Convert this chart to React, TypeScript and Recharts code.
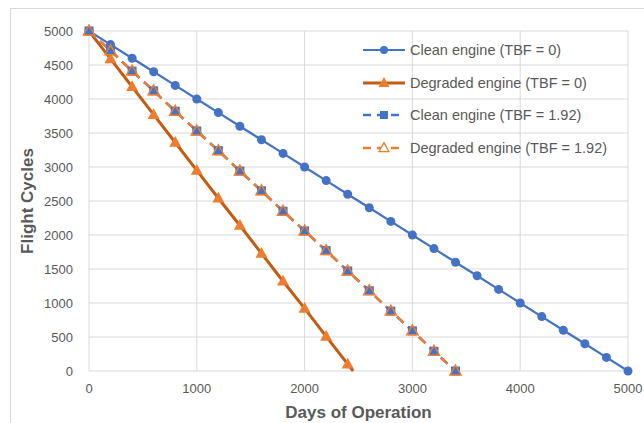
import { LineChart, Line, XAxis, YAxis, CartesianGrid, Label } from "recharts";

const BLUE = "#4472C4";
const ORANGE = "#ED7D31";
const DARK_ORANGE = "#C55A11";
const GRID = "#D9D9D9";
const TEXT = "#595959";
const FONT = "'Liberation Sans', Arial, sans-serif";

// days of operation (x) for each series
const cleanDays = [0, 200, 400, 600, 800, 1000, 1200, 1400, 1600, 1800, 2000, 2200, 2400, 2600, 2800, 3000, 3200, 3400, 3600, 3800, 4000, 4200, 4400, 4600, 4800, 5000];
const cleanCycles = [5000, 4800, 4600, 4400, 4200, 4000, 3800, 3600, 3400, 3200, 3000, 2800, 2600, 2400, 2200, 2000, 1800, 1600, 1400, 1200, 1000, 800, 600, 400, 200, 0];

const degradedDays = [0, 200, 400, 600, 800, 1000, 1200, 1400, 1600, 1800, 2000, 2200, 2400, 2450];
const degradedCycles = [5000, 4590, 4180, 3770, 3360, 2950, 2540, 2140, 1730, 1320, 920, 510, 100, 0];

const tbfDays = [0, 200, 400, 600, 800, 1000, 1200, 1400, 1600, 1800, 2000, 2200, 2400, 2600, 2800, 3000, 3200, 3400];
const cleanTbfCycles = [5000, 4710, 4410, 4120, 3820, 3530, 3240, 2940, 2650, 2350, 2060, 1770, 1470, 1180, 880, 590, 290, 0];
const degradedTbfCycles = [5000, 4710, 4410, 4120, 3820, 3530, 3240, 2940, 2650, 2350, 2060, 1770, 1470, 1180, 880, 590, 290, 0];

const xTicks = [0, 1000, 2000, 3000, 4000, 5000];
const yTicks = [0, 500, 1000, 1500, 2000, 2500, 3000, 3500, 4000, 4500, 5000];

const seriesNames = [
  "Clean engine (TBF = 0)",
  "Degraded engine (TBF = 0)",
  "Clean engine (TBF = 1.92)",
  "Degraded engine (TBF = 1.92)",
];

const toRows = (xs: number[], ys: number[]) => xs.map((x, i) => ({ x, y: ys[i] }));

const cleanData = toRows(cleanDays, cleanCycles);
const degradedData = toRows(degradedDays, degradedCycles);
const cleanTbfData = toRows(tbfDays, cleanTbfCycles);
const degradedTbfData = toRows(tbfDays, degradedTbfCycles);

function tri(cx: number, cy: number, s: number) {
  const h = s * 0.9;
  return `M${cx},${cy - h * 0.6} L${cx + s / 2},${cy + h * 0.4} L${cx - s / 2},${cy + h * 0.4} Z`;
}

const CircleDot = (p: any) => <circle key={p.index} cx={p.cx} cy={p.cy} r={4.5} fill={BLUE} />;

const SquareDot = (p: any) => <rect key={p.index} x={p.cx - 4.5} y={p.cy - 4.5} width={9} height={9} fill={BLUE} />;

// last degraded point (where the line meets zero) has no marker
const TriDot = (p: any) =>
  p.payload.x % 200 === 0 ? <path key={p.index} d={tri(p.cx, p.cy, 12)} fill={ORANGE} /> : <g key={p.index} />;

const OpenTriDot = (p: any) => (
  <path key={p.index} d={tri(p.cx, p.cy, 11)} fill="none" stroke={ORANGE} strokeWidth={1.5} />
);

function LegendIcon({ i }: { i: number }) {
  return (
    <svg width={46} height={14} style={{ display: "block" }}>
      {i === 0 && (
        <>
          <line x1={2} y1={7} x2={44} y2={7} stroke={BLUE} strokeWidth={2} />
          <circle cx={23} cy={7} r={4} fill={BLUE} />
        </>
      )}
      {i === 1 && (
        <>
          <line x1={2} y1={7} x2={44} y2={7} stroke={DARK_ORANGE} strokeWidth={3} />
          <path d={tri(23, 7, 11)} fill={ORANGE} />
        </>
      )}
      {i === 2 && (
        <>
          <line x1={2} y1={7} x2={44} y2={7} stroke={BLUE} strokeWidth={2.5} strokeDasharray="8 6" />
          <rect x={19} y={3} width={8} height={8} fill={BLUE} />
        </>
      )}
      {i === 3 && (
        <>
          <line x1={2} y1={7} x2={44} y2={7} stroke={ORANGE} strokeWidth={2.5} strokeDasharray="8 6" />
          <path d={tri(23, 7, 10)} fill="white" stroke={ORANGE} strokeWidth={1.3} />
        </>
      )}
    </svg>
  );
}

function LegendBox() {
  return (
    <div style={{ position: "absolute", left: 361, top: 34, fontFamily: FONT, fontSize: 14.5, color: TEXT }}>
      {seriesNames.map((name, i) => (
        <div key={name} style={{ display: "flex", alignItems: "center", height: 32.5 }}>
          <LegendIcon i={i} />
          <span style={{ marginLeft: 3 }}>{name}</span>
        </div>
      ))}
    </div>
  );
}

export default function App() {
  return (
    <div style={{ position: "absolute", left: 0, top: 0, width: 644, height: 423, background: "white", overflow: "hidden" }}>
      <div
        style={{
          position: "absolute",
          left: 10,
          top: 8,
          width: 700,
          height: 500,
          border: `1px solid ${GRID}`,
          boxSizing: "border-box",
        }}
      />
      <LineChart width={644} height={423} margin={{ top: 31, right: 16, bottom: 0, left: 0 }} style={{ position: "absolute", left: 0, top: 0 }}>
        <CartesianGrid stroke={GRID} strokeWidth={1} horizontal vertical />
        <XAxis
          type="number"
          dataKey="x"
          domain={[0, 5000]}
          ticks={xTicks}
          axisLine={false}
          tickLine={false}
          tickSize={0}
          tickMargin={13}
          height={52}
          tick={{ fill: TEXT, fontSize: 13, fontFamily: FONT }}
          allowDuplicatedCategory={false}
        >
          <Label value="Days of Operation" position="insideBottom" offset={5} style={{ fill: TEXT, fontSize: 17, fontWeight: "bold", fontFamily: FONT }} />
        </XAxis>
        <YAxis
          type="number"
          dataKey="y"
          domain={[0, 5000]}
          ticks={yTicks}
          axisLine={false}
          tickLine={false}
          tickSize={0}
          tickMargin={16}
          width={89}
          tick={{ fill: TEXT, fontSize: 13, fontFamily: FONT }}
        >
          <Label value="Flight Cycles" angle={-90} position="insideLeft" offset={27} style={{ fill: TEXT, fontSize: 17, fontWeight: "bold", fontFamily: FONT, textAnchor: "middle" }} />
        </YAxis>
        <Line data={cleanData} dataKey="y" stroke={BLUE} strokeWidth={2.2} dot={CircleDot} activeDot={false} isAnimationActive={false} />
        <Line data={degradedData} dataKey="y" stroke={DARK_ORANGE} strokeWidth={3} dot={TriDot} activeDot={false} isAnimationActive={false} />
        <Line data={cleanTbfData} dataKey="y" stroke={BLUE} strokeWidth={2.5} strokeDasharray="9 6" dot={SquareDot} activeDot={false} isAnimationActive={false} />
        <Line data={degradedTbfData} dataKey="y" stroke={ORANGE} strokeWidth={2.5} strokeDasharray="9 6" dot={OpenTriDot} activeDot={false} isAnimationActive={false} />
      </LineChart>
      <LegendBox />
    </div>
  );
}
